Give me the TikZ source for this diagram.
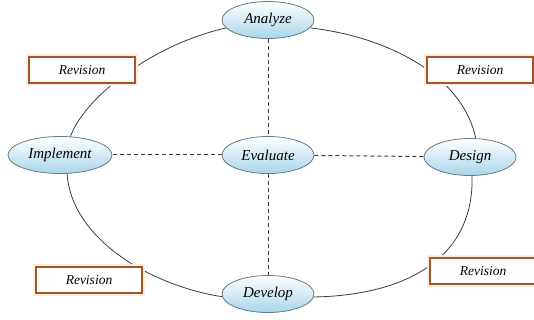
\documentclass[tikz,border=0pt]{standalone}
\usepackage{fontspec}
\setmainfont{Liberation Serif}
\usetikzlibrary{shapes.geometric}
\definecolor{ellborder}{RGB}{105,120,135}
\definecolor{ellblue}{RGB}{168,214,234}
\definecolor{revbrown}{RGB}{165,85,40}
\definecolor{revglow}{RGB}{253,238,222}
\definecolor{linegray}{RGB}{60,60,60}
\tikzset{
  phase/.style={ellipse, draw=ellborder, line width=0.8pt, top color=white, bottom color=ellblue,
    minimum width=92pt, minimum height=37pt, inner sep=0pt, font=\itshape\fontsize{15}{17}\selectfont},
  revbox/.style={rectangle, draw=revbrown, line width=1.8pt, fill=white,
    preaction={draw=revglow, line width=6pt},
    minimum width=106pt, minimum height=26pt, inner sep=0pt, font=\itshape\fontsize{13.5}{15}\selectfont},
  dashline/.style={line width=1pt, dash pattern=on 4pt off 3pt, draw=linegray},
  ring/.style={draw=linegray, line width=0.8pt},
}
\begin{document}
\begin{tikzpicture}[x=1pt,y=-1pt]
\useasboundingbox (0,0) rectangle (534,320);
\fill[white] (0,0) rectangle (534,320);
\coordinate (imN) at (70,138);
\coordinate (imS) at (67,172);
\coordinate (anW) at (226,28);
\coordinate (anE) at (311,28);
\coordinate (deN) at (476,140);
\coordinate (deS) at (472,175);
\coordinate (dvW) at (224,297);
\coordinate (dvE) at (312,297);
\draw[ring] (imN) .. controls (82,100) and (150,45) .. (anW);
\draw[ring] (anE) .. controls (395,38) and (465,80) .. (deN);
\draw[ring] (imS) .. controls (70,238) and (150,286) .. (dvW);
\draw[ring] (dvE) .. controls (400,296) and (475,262) .. (deS);
\node[revbox] (r1) at (82,70) {Revision};
\node[revbox] (r2) at (480,70) {Revision};
\node[revbox] (r3) at (89,280) {Revision};
\node[revbox] (r4) at (483,271) {Revision};
\node[phase] (an) at (268,20) {Analyze};
\node[phase] (ev) at (268,155) {Evaluate};
\node[phase, minimum width=104pt] (im) at (60,155) {Implement};
\node[phase] (de) at (470,157) {Design};
\node[phase] (dv) at (268,294) {Develop};
\draw[dashline] (an) -- (ev);
\draw[dashline] (ev) -- (dv);
\draw[dashline] (ev) -- (im);
\draw[dashline] (ev) -- (de);
\end{tikzpicture}
\end{document}
